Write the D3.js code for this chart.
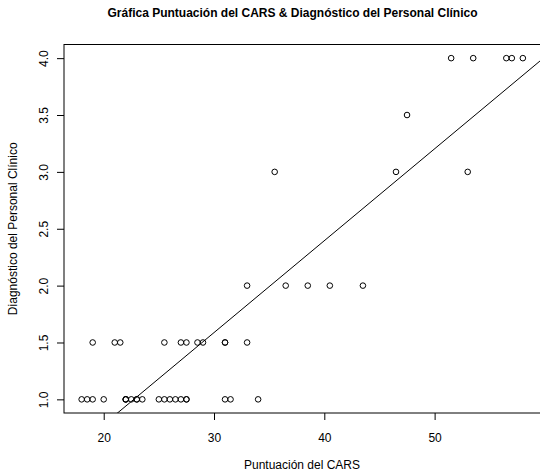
<!DOCTYPE html>
<html><head><meta charset="utf-8">
<script src="https://cdn.jsdelivr.net/npm/d3@7"></script>
<style>body{margin:0;background:#fff}svg{display:block}</style>
</head><body>
<script>
const cars = [18,18.5,19,20,22,22,22,22.5,23,23,23.5,25,25.5,26,26.5,27,27.5,27.5,31,31.5,34,
  19,21,21.5,25.5,27,27.5,28.5,29,31,31,33,
  33,36.5,38.5,40.5,43.5,
  35.5,46.5,53,
  47.5,
  51.5,53.5,56.5,57,58];
const diag = [1,1,1,1,1,1,1,1,1,1,1,1,1,1,1,1,1,1,1,1,1,
  1.5,1.5,1.5,1.5,1.5,1.5,1.5,1.5,1.5,1.5,1.5,
  2,2,2,2,2,
  3,3,3,
  3.5,
  4,4,4,4,4];
const xTicks = [20,30,40,50];
const yTicks = [1.0,1.5,2.0,2.5,3.0,3.5,4.0];
const fitIntercept = -0.837, fitSlope = 0.0808;
const title = "Gráfica Puntuación del CARS & Diagnóstico del Personal Clínico";
const xLabel = "Puntuación del CARS";
const yLabel = "Diagnóstico del Personal Clínico";

const W = 540, H = 471;
const L = 64, R = 540.5, T = 44.5, B = 413;
const svg = d3.select("body").append("svg").attr("width", W).attr("height", H)
  .style("font-family", "'Liberation Sans', Arial, sans-serif");

const x = d3.scaleLinear().domain([16.4, 59.6]).range([L, R]);
const y = d3.scaleLinear().domain([0.88, 4.12]).range([B, T]);

svg.append("defs").append("clipPath").attr("id","clip")
  .append("rect").attr("x", L).attr("y", T).attr("width", R - L).attr("height", B - T);

// box
svg.append("rect").attr("x", L).attr("y", T).attr("width", R - L).attr("height", B - T)
  .attr("fill","none").attr("stroke","#000").attr("stroke-width",1);

// x axis
const xa = svg.append("g").attr("transform", `translate(0,${B})`)
  .call(d3.axisBottom(x).tickValues(xTicks).tickFormat(d3.format("d")).tickSize(7).tickSizeOuter(0));
xa.select(".domain").remove();
xa.selectAll("text").attr("font-size", 12).attr("dy", null).attr("y", 28.5).attr("fill","#000").attr("font-family","'Liberation Sans', Arial, sans-serif");

// y axis
const ya = svg.append("g").attr("transform", `translate(${L},0)`)
  .call(d3.axisLeft(y).tickValues(yTicks).tickFormat(d3.format(".1f")).tickSize(7).tickSizeOuter(0));
ya.select(".domain").remove();
ya.selectAll("text").attr("font-size", 12).attr("x", null).attr("dy", null)
  .attr("text-anchor","middle").attr("transform", "translate(-16.5,0) rotate(-90)")
  .attr("fill","#000").attr("font-family","'Liberation Sans', Arial, sans-serif");

// regression line
svg.append("line").attr("clip-path","url(#clip)")
  .attr("x1", x(16.4)).attr("y1", y(fitIntercept + fitSlope*16.4))
  .attr("x2", x(59.6)).attr("y2", y(fitIntercept + fitSlope*59.6))
  .attr("stroke","#000").attr("stroke-width",1);

// points
svg.append("g").selectAll("circle").data(cars.map((c,i)=>[c,diag[i]])).join("circle")
  .attr("cx", d => x(d[0])).attr("cy", d => y(d[1])).attr("r", 2.8)
  .attr("fill","none").attr("stroke","#000").attr("stroke-width",1);

// title & labels
svg.append("text").attr("x", 292.5).attr("y", 17).attr("text-anchor","middle")
  .attr("font-size", 12).attr("font-weight","bold").text(title);
svg.append("text").attr("x", 302).attr("y", 468.5).attr("text-anchor","middle")
  .attr("font-size", 12).text(xLabel);
svg.append("text").attr("transform", `translate(17,${(T+B)/2}) rotate(-90)`).attr("text-anchor","middle")
  .attr("font-size", 12).text(yLabel);
</script>
</body></html>
